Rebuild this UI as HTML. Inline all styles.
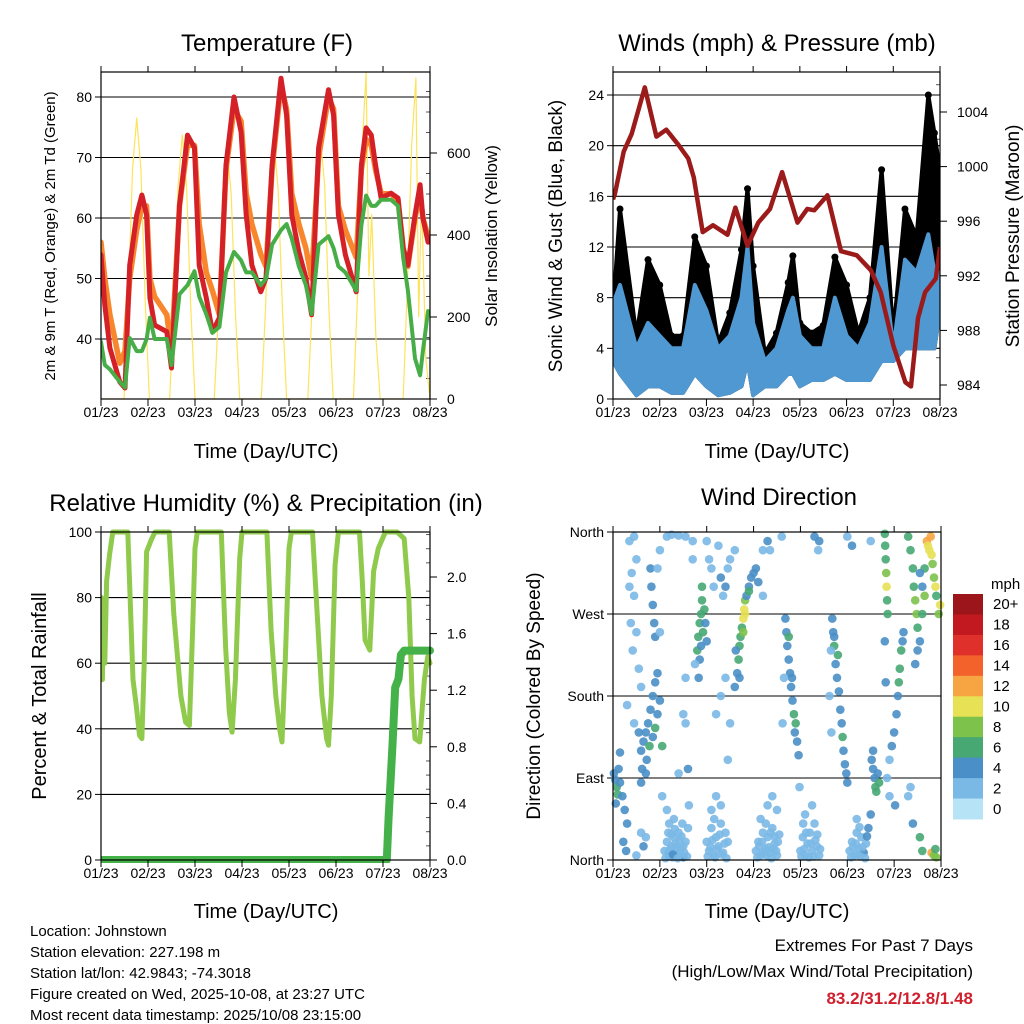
<!DOCTYPE html>
<html><head><meta charset="utf-8"><style>
body{margin:0;background:#fff}
svg{display:block;font-family:"Liberation Sans",Arial,sans-serif}
</style></head><body>
<svg id="c" width="1024" height="1024" viewBox="0 0 1024 1024" xmlns="http://www.w3.org/2000/svg">
<rect width="1024" height="1024" fill="#fff"/>
<g id="g1"></g>
<g id="g2"></g>
<g id="g3"></g>
<g id="g4"></g>
<text x="267" y="51" font-size="24" text-anchor="middle">Temperature (F)</text>
<text x="777" y="51" font-size="24" text-anchor="middle">Winds (mph) &amp; Pressure (mb)</text>
<text x="266" y="511" font-size="24" text-anchor="middle">Relative Humidity (%) &amp; Precipitation (in)</text>
<text x="779" y="505" font-size="24" text-anchor="middle">Wind Direction</text>
<text x="266" y="458" font-size="20" text-anchor="middle">Time (Day/UTC)</text>
<text x="777" y="458" font-size="20" text-anchor="middle">Time (Day/UTC)</text>
<text x="266" y="918" font-size="20" text-anchor="middle">Time (Day/UTC)</text>
<text x="777" y="918" font-size="20" text-anchor="middle">Time (Day/UTC)</text>
<text transform="translate(55,236) rotate(-90)" font-size="15" text-anchor="middle">2m &amp; 9m T (Red, Orange) &amp; 2m Td (Green)</text>
<text transform="translate(497,236) rotate(-90)" font-size="17" text-anchor="middle">Solar Insolation (Yellow)</text>
<text transform="translate(562,236) rotate(-90)" font-size="19" text-anchor="middle">Sonic Wind &amp; Gust (Blue, Black)</text>
<text transform="translate(1019,236) rotate(-90)" font-size="19" text-anchor="middle">Station Pressure (Maroon)</text>
<text transform="translate(46,696) rotate(-90)" font-size="20" text-anchor="middle">Percent &amp; Total Rainfall</text>
<text transform="translate(540,696) rotate(-90)" font-size="19" text-anchor="middle">Direction (Colored By Speed)</text>
<g font-size="15">
<text x="30" y="936">Location: Johnstown</text>
<text x="30" y="957">Station elevation: 227.198 m</text>
<text x="30" y="978">Station lat/lon: 42.9843; -74.3018</text>
<text x="30" y="999">Figure created on Wed, 2025-10-08, at 23:27 UTC</text>
<text x="30" y="1020">Most recent data timestamp: 2025/10/08 23:15:00</text>
</g>
<g font-size="17" text-anchor="end">
<text x="973" y="951">Extremes For Past 7 Days</text>
<text x="973" y="977">(High/Low/Max Wind/Total Precipitation)</text>
<text x="973" y="1004" fill="#d0202e" font-weight="bold">83.2/31.2/12.8/1.48</text>
</g>
</svg>
<script>
// ---- data ----
const dayLabels=["01/23","02/23","03/23","04/23","05/23","06/23","07/23","08/23"];
const tDays=[0,0.08,0.19,0.40,0.51,0.61,0.76,0.87,0.97,1.04,1.14,1.40,1.50,1.67,1.84,1.99,2.09,2.24,2.37,2.52,2.66,2.83,2.98,3.09,3.21,3.40,3.51,3.64,3.83,3.95,4.06,4.21,4.36,4.48,4.63,4.84,4.95,5.05,5.20,5.43,5.54,5.64,5.75,5.84,5.96,6.17,6.32,6.43,6.53,6.68,6.79,6.85,6.96];
const temp2m=[53.9,45.6,38.5,32.9,31.9,52.2,60.5,63.8,60.5,46.8,42.3,41.2,35.2,62.1,73.7,71.6,52.2,46.8,41.2,43.5,68.8,80,74.2,60.5,52.2,47.8,50.1,68.8,83.1,77,60.5,54.4,50.1,44,71.6,81.2,77,60.5,53.9,47.8,68.8,74.9,73.7,68.8,63.3,64.1,63.3,55,52.2,60.5,65.5,60,56];
const temp9m=[56,50,44,36,38,50,58,62,62,50,47,44,38,62,72,72,59,51,48,44,68,78,76,64,59,54,52,68,82,78,64,59,55,50,70,80,78,62,58,53.5,68,73,72,68,64,64,63,55,52,60,64,60,57];
const dewpt=[39.5,35.7,35,32.9,32,40.2,38,38,40,43.5,40,40,35.7,47.4,48.9,51.2,47,44.1,41,42,51,54.4,53,51,51,48.9,50,55.6,58,59,56.6,52,48.9,44.1,55.6,57,55,52,51,48,58.8,63.7,62,62,63,63,62,53.4,48,36.8,34,38,44.7];
const solarDays=[0,0.49,0.58,0.67,0.76,0.85,0.94,1.03,1.46,1.55,1.64,1.73,1.82,1.91,2.0,2.41,2.50,2.59,2.68,2.77,2.86,2.95,3.41,3.50,3.59,3.68,3.77,3.86,3.95,4.40,4.49,4.58,4.67,4.76,4.85,4.94,5.37,5.46,5.55,5.64,5.70,5.76,5.85,5.94,6.43,6.52,6.61,6.70,6.76,6.82,6.91,7.0];
const solar=[0,0,240,560,685,560,240,0,0,220,520,644,520,220,0,0,210,500,612,500,210,0,0,220,510,625,510,220,0,0,220,520,633,520,220,0,0,260,600,797,300,450,150,0,0,280,620,783,200,500,100,0];
const windDays=[0,0.15,0.5,0.75,1.0,1.25,1.5,1.75,2.0,2.25,2.5,2.75,2.88,3.0,3.25,3.5,3.75,3.85,4.0,4.25,4.5,4.75,5.0,5.25,5.5,5.75,6.0,6.25,6.5,6.75,6.88,7.0];
const gustHi=[7,15,5,11,9,5,5,12.8,10.5,4.4,6.8,11.8,16.6,10.5,3.6,5.2,9.2,11.3,6,5.2,5.8,11.2,9,5.2,8,18.1,5.2,15,12.8,24,21,18];
const windHi=[7.5,9,4,6,5,4,4,9,7,4,5,8,12,6,3,4,7,8,5,4,4,8,5,4,6,12,4,11,10,13,10,10];
const windLo=[3,2,0.3,1,1,0.5,0.5,2,1,0.3,0.5,1,3,0.3,1,1,2,2,1,1.5,1.5,2,1.5,1.5,1.5,3,3,4,4,4,4,7];
const presDays=[0,0.04,0.23,0.40,0.68,0.93,1.14,1.40,1.61,1.73,1.92,2.14,2.45,2.62,2.88,3.11,3.36,3.62,3.95,4.16,4.31,4.59,4.88,5.22,5.52,5.73,6.0,6.26,6.38,6.53,6.68,6.91,7.0];
const pressure=[997.6,998,1001.1,1002.4,1005.8,1002.2,1002.7,1001.6,1000.6,999.2,995.2,995.7,995,997,994.2,995.9,996.9,999.6,995.9,996.9,996.8,997.9,993.8,993.5,992.4,990.8,986.9,984.2,983.9,988.9,990.8,991.8,994.1];
const rhDays=[0,0.01,0.03,0.05,0.08,0.12,0.18,0.25,0.57,0.68,0.75,0.82,0.87,0.92,0.97,1.08,1.15,1.45,1.55,1.7,1.8,1.88,1.95,2.0,2.05,2.56,2.65,2.73,2.79,2.86,2.95,3.0,3.53,3.62,3.72,3.8,3.85,3.92,4.0,4.05,4.5,4.6,4.7,4.8,4.84,4.9,4.98,5.05,5.5,5.56,5.62,5.72,5.8,5.9,6.05,6.3,6.45,6.55,6.62,6.68,6.78,6.88,6.95,7.0];
const rh=[60,80,55,72,60,85,93,100,100,55,47,38,37,60,94,98,100,100,75,50,42,41,70,95,100,100,65,45,39,55,92,100,100,70,50,40,36,60,95,100,100,75,50,37,35,50,90,100,100,85,67,64,88,95,100,100,98,80,50,37,36,55,62,60];
const precipDays=[0,6.08,6.12,6.2,6.26,6.33,6.38,6.45,7.0];
const precip=[0,0,0.3,0.8,1.22,1.28,1.45,1.48,1.48];
const dirLabels=["North","East","South","West","North"];
const speedLabels=["0","2","4","6","8","10","12","14","16","18","20+"];
const speedColors=["#b7e3f7","#7ab8e5","#4a8fc7","#47a874","#7dc24b","#e7e155","#f7a543","#f2622a","#e0302b","#c1191f","#9b151b"];
const dirObs=[[0.02,95,4],[0.05,88,3],[0.08,80,6],[0.1,72,6],[0.06,62,4],[0.12,100,3],[0.15,85,3],[0.2,70,4],[0.25,55,4],[0.3,40,4],[0.22,20,4],[0.28,10,3],[0.15,118,4],
[0.35,350,1],[0.45,355,2],[0.5,330,2],[0.4,315,2],[0.45,290,2],[0.38,260,2],[0.5,250,2],[0.42,230,1],[0.55,210,2],[0.6,190,2],[0.3,170,1],[0.45,150,2],[0.55,140,3],[0.6,30,2],[0.5,5,2],[0.65,15,3],[0.7,25,2],[0.35,300,2],
[0.6,120,3],[0.65,130,4],[0.7,140,4],[0.75,150,3],[0.8,165,4],[0.85,180,4],[0.9,195,4],[0.95,205,4],[0.62,100,4],[0.72,110,3],[0.78,125,6],[0.85,135,4],[0.9,145,5],[0.95,160,4],[1.0,175,4],[1.05,125,6],[0.6,85,4],[0.7,95,3],
[0.82,300,4],[0.85,280,4],[0.88,260,3],[0.9,245,4],[0.8,320,4],
[1.1,10,2],[1.15,20,2],[1.2,5,4],[1.25,15,2],[1.3,25,2],[1.35,8,2],[1.4,30,2],[1.45,12,2],[1.5,3,4],[1.55,20,2],[1.6,35,2],[1.2,40,2],[1.3,45,2],[1.4,5,2],[1.5,15,2],[1.15,55,2],[1.62,60,2],[1.05,70,2],[1.22,12,2],[1.33,18,2],[1.42,22,2],[1.27,3,2],
[1.12,2,2],[1.18,8,2],[1.24,28,2],[1.28,6,4],[1.36,14,2],[1.38,2,2],[1.46,26,2],[1.52,8,2],[1.58,4,2],[1.32,34,2],[1.18,30,2],[1.48,40,2],
[1.15,355,2],[1.25,357,2],[1.4,356,1],[1.55,355,2],[1.7,350,1],[1.55,200,2],[1.5,160,2],[1.55,150,2],[1.4,95,1],[1.6,100,3],
[1.8,230,6],[1.82,245,6],[1.85,260,5],[1.88,270,6],[1.9,285,6],[1.95,275,5],[1.92,250,5],[1.88,235,4],[1.85,220,4],[1.83,200,4],[1.97,260,4],[1.75,215,2],[2.0,240,4],[1.9,300,6],
[2.0,20,2],[2.05,10,2],[2.1,35,2],[2.15,5,2],[2.2,25,2],[2.25,15,2],[2.3,40,2],[2.35,8,2],[2.4,30,2],[2.45,20,2],[2.1,55,2],[2.3,60,2],[2.2,70,2],
[2.02,4,2],[2.08,14,2],[2.12,22,2],[2.18,3,2],[2.22,12,2],[2.28,28,2],[2.32,6,2],[2.38,18,2],[2.42,2,2],[2.16,45,2],
[2.0,350,2],[2.05,330,2],[2.1,320,2],[2.15,300,2],[2.25,345,2],[2.3,310,3],[2.35,290,2],[2.4,300,3],[2.45,320,2],[2.5,330,2],[2.3,180,2],[2.4,200,2],[2.5,150,2],[2.2,160,1],[2.45,110,2],
[2.6,190,4],[2.65,205,4],[2.68,220,6],[2.7,235,6],[2.72,245,6],[2.75,255,6],[2.78,265,10],[2.8,275,10],[2.82,285,8],[2.85,290,4],[2.9,300,4],[2.95,310,4],[3.0,315,4],[3.05,320,4],[2.78,250,8],[2.82,270,10],[2.9,295,6],[2.62,230,4],[2.7,200,3],[3.1,305,3],
[3.05,10,2],[3.1,20,2],[3.15,5,2],[3.2,30,2],[3.25,12,2],[3.3,25,2],[3.35,8,2],[3.4,35,2],[3.45,18,2],[3.5,5,2],[3.55,28,2],[3.15,45,2],[3.3,60,2],[3.4,70,2],[3.5,55,2],[3.2,290,2],[3.35,340,1],[3.12,15,2],[3.28,5,2],[3.42,12,2],
[3.08,3,2],[3.18,20,2],[3.22,8,2],[3.32,14,2],[3.38,2,2],[3.44,26,2],[3.48,10,2],[3.52,20,2],[3.26,40,2],[3.36,30,2],
[3.68,265,4],[3.7,250,4],[3.72,235,4],[3.75,220,4],[3.78,205,4],[3.8,190,4],[3.83,175,4],[3.86,160,6],[3.9,150,6],[3.93,130,4],[3.96,115,3],[3.75,245,6],[3.82,200,4],[3.88,140,3],[3.65,200,2],[3.62,150,2],
[4.0,10,2],[4.05,25,2],[4.1,5,2],[4.15,18,2],[4.2,30,2],[4.25,10,2],[4.3,40,2],[4.35,15,2],[4.4,5,2],[4.1,50,2],[4.25,60,2],[3.98,80,2],[4.38,340,1],[4.08,12,2],[4.18,3,2],[4.32,22,2],
[4.02,4,2],[4.12,30,2],[4.22,18,2],[4.28,4,2],[4.36,28,2],[4.42,12,2],[4.06,40,2],
[4.68,265,4],[4.7,250,4],[4.72,235,6],[4.75,215,4],[4.78,200,4],[4.82,185,4],[4.85,165,4],[4.88,150,4],[4.9,135,6],[4.92,120,4],[4.95,105,4],[4.98,95,4],[5.0,85,4],[4.72,245,4],[4.8,225,6],[4.65,230,2],[4.62,180,2],[4.66,140,2],
[5.05,10,2],[5.1,20,2],[5.15,5,2],[5.2,30,2],[5.25,12,2],[5.3,25,2],[5.35,8,4],[5.4,18,2],[5.45,35,4],[5.5,50,4],[5.2,45,2],[5.12,14,2],[5.28,4,2],
[5.08,3,2],[5.18,18,2],[5.22,6,2],[5.32,14,2],[5.38,2,2],[5.42,26,4],[5.26,36,2],
[5.52,110,4],[5.55,100,4],[5.58,90,4],[5.6,80,6],[5.62,75,6],[5.65,95,4],[5.68,85,6],[5.55,120,4],
[5.9,110,2],[5.95,125,4],[6.0,140,4],[6.05,160,4],[6.08,180,4],[6.1,195,6],[6.12,210,6],[6.15,230,6],[6.18,240,4],[6.2,250,4],[5.85,90,2],[5.9,70,2],[6.02,60,4],
[5.8,358,6],[5.81,345,6],[5.82,330,6],[5.83,315,8],[5.84,300,10],[5.85,285,6],[5.86,270,6],[5.8,240,4],[5.82,195,4],
[6.3,355,6],[6.35,340,6],[6.4,320,6],[6.42,300,6],[6.45,285,8],[6.48,270,8],[6.5,255,6],[6.55,240,4],[6.6,300,4],[6.65,320,6],[6.7,350,12],[6.72,345,10],[6.75,340,10],[6.78,355,12],[6.8,335,10],[6.82,325,8],[6.85,310,8],[6.88,300,10],[6.9,290,6],[6.95,270,8],[6.98,280,10],[6.6,270,6],[6.65,290,8],[6.55,315,4],[6.5,230,4],[6.45,215,4],
[6.55,25,6],[6.6,10,6],[6.8,8,12],[6.85,5,8],[6.88,12,6],[6.9,3,8],[6.4,40,4],[6.3,70,2],[6.35,80,2],
[1.0,250,2],[0.95,320,2],[1.0,340,2],[1.7,330,2],[2.6,340,2],[3.2,340,2],[3.3,350,3],[3.6,355,2],[4.3,355,3],[4.4,350,3],[5.0,355,2],[5.1,345,3],[5.5,350,2]];

// ---- helpers ----
const NS="http://www.w3.org/2000/svg";
function mk(parent,tag,attrs,text){const e=document.createElementNS(NS,tag);for(const k in attrs)e.setAttribute(k,attrs[k]);if(text!==undefined)e.textContent=text;parent.appendChild(e);return e;}
function scale(d0,d1,r0,r1){return v=>r0+(v-d0)*(r1-r0)/(d1-d0);}
function pathFrom(xsArr,ysArr,fx,fy){return xsArr.map((d,i)=>(i?"L":"M")+fx(d).toFixed(1)+" "+fy(ysArr[i]).toFixed(1)).join(" ");}

function frame(g,L,R,T,B,name){
  const r=mk(g,"rect",{x:L,y:T,width:R-L,height:B-T,fill:"none",stroke:"#000","stroke-width":1.2});
  
  
}
function xAxis(g,L,R,B,T,name){
  const fx=scale(0,7,L,R);
  dayLabels.forEach((lab,i)=>{
    const x=fx(i);
    mk(g,"line",{x1:x,y1:B,x2:x,y2:B+7,stroke:"#000","stroke-width":1});
    mk(g,"line",{x1:x,y1:T,x2:x,y2:T-6,stroke:"#000","stroke-width":1});
    const t=mk(g,"text",{x:x,y:B+18,"font-size":14,"text-anchor":"middle"},lab);
    
    
  });
  return fx;
}
function yTicks(g,L,R,vals,fy,labels,side,grid,name,minor){
  vals.forEach((v,i)=>{
    const y=fy(v);
    if(grid){mk(g,"line",{x1:L,y1:y,x2:R,y2:y,stroke:"#000","stroke-width":1.1});}
    if(side==="left"){
      mk(g,"line",{x1:L-6,y1:y,x2:L,y2:y,stroke:"#000"});
      const t=mk(g,"text",{x:L-9,y:y+5,"font-size":14,"text-anchor":"end"},labels[i]);
      
      
    } else {
      mk(g,"line",{x1:R,y1:y,x2:R+7,y2:y,stroke:"#000"});
      const t=mk(g,"text",{x:R+17,y:y+5,"font-size":14,"text-anchor":"start"},labels[i]);
      
      
    }
  });
  if(minor){minor.forEach(v=>{const y=fy(v);const x=side==="left"?L:R;mk(g,"line",{x1:x,y1:y,x2:side==="left"?x+4:x-4,y2:y,stroke:"#555"});});}
}

// ---- Panel 1: temperature ----
(function(){
  const g=document.getElementById("g1");
  const L=101,R=430,T=72,B=399;
  const fx=scale(0,7,L,R);
  const fT=scale(40,80,339,97);
  const fS=scale(0,600,399,153);
  const cp=mk(g,"clipPath",{id:"cp1"});mk(cp,"rect",{x:L,y:T,width:R-L,height:B-T});
  yTicks(g,L,R,[40,50,60,70,80],fT,["40","50","60","70","80"],"left",true,"temperature-y");
  yTicks(g,L,R,[0,200,400,600],fS,["0","200","400","600"],"right",false,"solar-y",[50,100,150,250,300,350,450,500,550,650,700,750]);
  const pg=mk(g,"g",{"clip-path":"url(#cp1)","fill":"none","stroke-linejoin":"round","stroke-linecap":"round"});
  const s=mk(pg,"path",{d:pathFrom(solarDays,solar,fx,fS),stroke:"#fde35a","stroke-width":1.2});
  
  
  const o=mk(pg,"path",{d:pathFrom(tDays,temp9m,fx,fT),stroke:"#f7862d","stroke-width":5.5});
  
  
  const r=mk(pg,"path",{d:pathFrom(tDays,temp2m,fx,fT),stroke:"#d42027","stroke-width":5});
  
  
  const gr=mk(pg,"path",{d:pathFrom(tDays,dewpt,fx,fT),stroke:"#46ad47","stroke-width":4,"stroke-dasharray":"3 1"});
  
  
  frame(g,L,R,T,B,"temperature");
  xAxis(g,L,R,B,T,"temperature");
})();

// ---- Panel 2: winds ----
(function(){
  const g=document.getElementById("g2");
  const L=613,R=940,T=72,B=399;
  const fx=scale(0,7,L,R);
  const fW=scale(0,24,399,95);
  const fP=scale(984,1004,385,112);
  const cp=mk(g,"clipPath",{id:"cp2"});mk(cp,"rect",{x:L,y:T,width:R-L,height:B-T});
  yTicks(g,L,R,[0,4,8,12,16,20,24],fW,["0","4","8","12","16","20","24"],"left",true,"wind-y");
  yTicks(g,L,R,[984,988,992,996,1000,1004],fP,["984","988","992","996","1000","1004"],"right",false,"pressure-y",[986,990,994,998,1002,1006]);
  const pg=mk(g,"g",{"clip-path":"url(#cp2)"});
  const up=windDays.map((d,i)=>fx(d).toFixed(1)+","+fW(gustHi[i]).toFixed(1));
  const dn=windDays.map((d,i)=>fx(d).toFixed(1)+","+fW(windLo[i]).toFixed(1)).reverse();
  const ga=mk(pg,"polygon",{points:up.concat(dn).join(" "),fill:"#000",stroke:"#000","stroke-width":4,"stroke-linejoin":"round"});
  
  
  windDays.forEach((d,i)=>{
    const c=mk(pg,"circle",{cx:fx(d),cy:fW(gustHi[i]),r:3.5,fill:"#000"});
    
    
  });
  const up2=windDays.map((d,i)=>fx(d).toFixed(1)+","+fW(windHi[i]).toFixed(1));
  const wa=mk(pg,"polygon",{points:up2.concat(dn).join(" "),fill:"#4f98d2",stroke:"#4f98d2","stroke-width":4,"stroke-linejoin":"round"});
  
  
  const p=mk(pg,"path",{d:pathFrom(presDays,pressure,fx,fP),fill:"none",stroke:"#9b1b1b","stroke-width":4.5,"stroke-linejoin":"round"});
  
  
  frame(g,L,R,T,B,"winds");
  xAxis(g,L,R,B,T,"winds");
})();

// ---- Panel 3: humidity ----
(function(){
  const g=document.getElementById("g3");
  const L=101,R=430,T=532,B=860;
  const fx=scale(0,7,L,R);
  const fR=scale(0,100,860,532);
  const fPr=scale(0,2.0,860,577);
  const cp=mk(g,"clipPath",{id:"cp3"});mk(cp,"rect",{x:L,y:T-3,width:R-L+5,height:B-T+6});
  yTicks(g,L,R,[0,20,40,60,80,100],fR,["0","20","40","60","80","100"],"left",true,"humidity-y");
  yTicks(g,L,R,[0,0.4,0.8,1.2,1.6,2.0],fPr,["0.0","0.4","0.8","1.2","1.6","2.0"],"right",false,"precip-y",[0.1,0.2,0.3,0.5,0.6,0.7,0.9,1.0,1.1,1.3,1.4,1.5,1.7,1.8,1.9,2.1,2.2,2.3]);
  const pg=mk(g,"g",{"clip-path":"url(#cp3)",fill:"none","stroke-linejoin":"round","stroke-linecap":"round"});
  const h=mk(pg,"path",{d:pathFrom(rhDays,rh,fx,fR),stroke:"#8fca4c","stroke-width":5});
  
  
  const pr=mk(pg,"path",{d:pathFrom(precipDays,precip,fx,fPr),stroke:"#44b149","stroke-width":8});
  
  
  frame(g,L,R,T,B,"humidity");
  xAxis(g,L,R,B,T,"humidity");
})();

// ---- Panel 4: wind direction ----
(function(){
  const g=document.getElementById("g4");
  const L=613,R=941,T=532,B=860;
  const fx=scale(0,7,L,R);
  const fD=scale(0,360,860,532);
  yTicks(g,L,R,[0,90,180,270,360],fD,dirLabels,"left",true,"direction-y");
  dirObs.forEach(o=>{
    const idx=Math.min(10,Math.round(o[2]/2));
    const c=mk(g,"circle",{cx:fx(o[0]).toFixed(1),cy:fD(o[1]).toFixed(1),r:4.3,fill:speedColors[idx],"fill-opacity":0.9});
    
    
  });
  frame(g,L,R,T,B,"direction");
  xAxis(g,L,R,B,T,"direction");
  const lg=mk(g,"g",{});
  
  
  const t0=mk(lg,"text",{x:991,y:589,"font-size":15},"mph");
  
  
  const h=(819-594)/11;
  for(let i=10;i>=0;i--){
    const y=594+(10-i)*h;
    const b=mk(lg,"rect",{x:953,y:y,width:30,height:h+0.5,fill:speedColors[i]});
    
    
    const t=mk(lg,"text",{x:993,y:y+h/2+5,"font-size":15},speedLabels[i]);
    
    
  }
})();
</script>
</body></html>
